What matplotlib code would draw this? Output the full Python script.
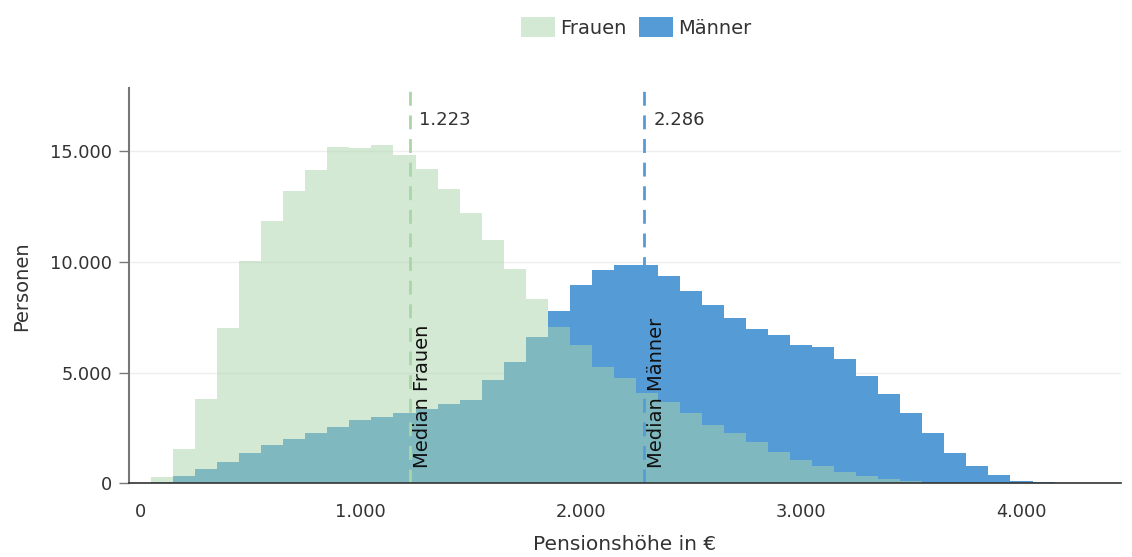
import matplotlib.pyplot as plt
from matplotlib.ticker import FuncFormatter

# Histogram counts per 100 € bin (bin centres in €)
bin_centres = [100, 200, 300, 400, 500, 600, 700, 800, 900, 1000,
               1100, 1200, 1300, 1400, 1500, 1600, 1700, 1800, 1900, 2000,
               2100, 2200, 2300, 2400, 2500, 2600, 2700, 2800, 2900, 3000,
               3100, 3200, 3300, 3400, 3500, 3600, 3700, 3800, 3900, 4000,
               4100]
frauen = [270, 1550, 3810, 7030, 10020, 11840, 13190, 14170, 15170, 15120,
          15270, 14830, 14190, 13310, 12230, 10970, 9690, 8320, 7070, 6240,
          5270, 4770, 4090, 3690, 3190, 2660, 2260, 1870, 1430, 1080,
          800, 530, 330, 180, 90, 30, 0, 0, 0, 0,
          0]
maenner = [80, 360, 660, 950, 1380, 1720, 2020, 2300, 2570, 2860,
           2990, 3200, 3350, 3600, 3790, 4660, 5480, 6630, 7780, 8980,
           9630, 9880, 9850, 9360, 8700, 8050, 7460, 6950, 6690, 6240,
           6140, 5640, 4860, 4030, 3160, 2260, 1380, 780, 390, 120,
           50]
median_frauen = 1223
median_maenner = 2286

BLUE = "#559cd6"
GREEN = "#a9d5a9"
TEXT = "#333333"

plt.rcParams["font.family"] = ["DejaVu Sans"]

fig = plt.figure(figsize=(11.32, 5.57), dpi=100)
ax = fig.add_axes([0.114, 0.132, 0.876, 0.710])

ax.bar(bin_centres, maenner, width=100, color=BLUE, linewidth=0, label="Männer", zorder=2)
ax.bar(bin_centres, frauen, width=100, color=GREEN, alpha=0.5, linewidth=0, label="Frauen", zorder=3)

ax.set_xlim(-50, 4450)
ax.set_ylim(0, 17850)
ax.set_xticks([0, 1000, 2000, 3000, 4000])
ax.set_yticks([0, 5000, 10000, 15000])
fmt = FuncFormatter(lambda v, p: f"{int(v):,}".replace(",", "."))
ax.xaxis.set_major_formatter(fmt)
ax.yaxis.set_major_formatter(fmt)

ax.grid(axis="y", color="#eeeeee", linewidth=1, zorder=0)
ax.set_axisbelow(True)
for side in ["top", "right"]:
    ax.spines[side].set_visible(False)
ax.spines["left"].set_color("#777777")
ax.spines["left"].set_linewidth(1.5)
ax.spines["bottom"].set_color("#333333")
ax.spines["bottom"].set_linewidth(1.2)
ax.spines["bottom"].set_zorder(5)
ax.tick_params(axis="x", length=0, pad=14, colors=TEXT, labelsize=12.8)
ax.tick_params(axis="y", length=7, width=1, color="#777777", pad=5, colors=TEXT, labelsize=12.8)

# median lines
ax.axvline(median_frauen, color=GREEN, linestyle=(0, (5, 3.5)), linewidth=2, zorder=4)
ax.axvline(median_maenner, color=BLUE, linestyle=(0, (5, 3.5)), linewidth=2, zorder=4)
for m in [median_frauen, median_maenner]:
    ax.text(m + 45, 16400, f"{m:,}".replace(",", "."), ha="left", va="center",
            color=TEXT, fontsize=13)
ax.text(median_frauen + 15, 700, "Median Frauen", rotation=90, ha="left", va="bottom",
        color="#111111", fontsize=14, zorder=6)
ax.text(median_maenner + 15, 700, "Median Männer", rotation=90, ha="left", va="bottom",
        color="#111111", fontsize=14, zorder=6)

ax.set_xlabel("Pensionshöhe in €", color=TEXT, fontsize=14.5, labelpad=10)
ax.set_ylabel("Personen", color=TEXT, fontsize=14, labelpad=14)

handles, labels = ax.get_legend_handles_labels()
fig.legend(handles[::-1], labels[::-1], loc="upper center", bbox_to_anchor=(0.562, 1.0),
           ncol=2, frameon=False, fontsize=14, handlelength=1.75, handleheight=1.2,
           columnspacing=0.6, handletextpad=0.3, labelcolor=TEXT)

fig.savefig("out.png", dpi=100)
